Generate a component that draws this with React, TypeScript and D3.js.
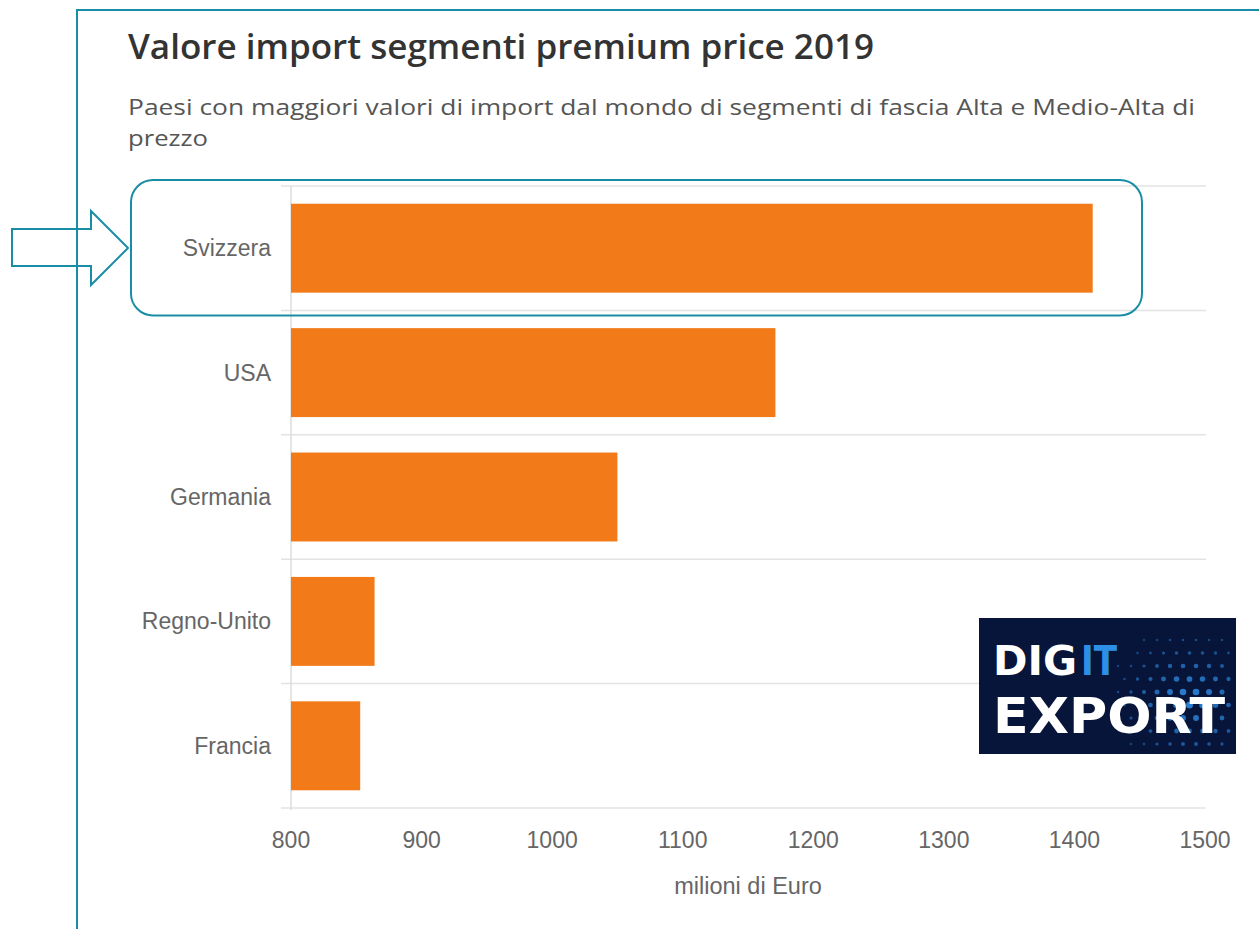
import React from "react";
import * as d3 from "d3";

const categories: string[] = ["Svizzera", "USA", "Germania", "Regno-Unito", "Francia"];
const values: number[] = [1414, 1171, 1050, 864, 853];
const xTicks: number[] = [800, 900, 1000, 1100, 1200, 1300, 1400, 1500];
const titleText = "Valore import segmenti premium price 2019";
const subtitleLines: string[] = [
  "Paesi con maggiori valori di import dal mondo di segmenti di fascia Alta e Medio-Alta di",
  "prezzo",
];
const axisTitle = "milioni di Euro";

const W = 1259;
const H = 929;
const TEAL = "#1a8da6";
const ORANGE = "#f27a19";
const LABEL = "#666666";

export default function App() {
  const x = d3.scaleLinear().domain([800, 1500]).range([291, 1205]);
  const y = d3
    .scaleBand<string>()
    .domain(categories)
    .range([186, 808])
    .paddingInner(0.285)
    .paddingOuter(0.1425);
  const step = y.step();
  const bw = y.bandwidth();
  const bandStart = (c: string) => (y(c) as number) - y.paddingOuter() * step;
  const boundaries = categories.map(bandStart).concat([808]);

  // decorative dot field for logo
  const dots: { cx: number; cy: number; r: number; o: number }[] = [];
  for (let i = 0; i < 10; i++) {
    for (let j = 0; j < 9; j++) {
      const cx = 1118 + i * 13 + (j % 2) * 6.5;
      const cy = 640 + j * 13;
      const dx = (cx - 1190) / 70;
      const dy = (cy - 700) / 60;
      const d = Math.sqrt(dx * dx + dy * dy);
      if (d > 1.2 || cx > 1234) continue;
      dots.push({ cx, cy, r: 1.3 + 2.4 * Math.max(0, 1 - d), o: 0.35 + 0.55 * Math.max(0, 1 - d / 1.2) });
    }
  }

  const first = categories[0];
  const hlTop = bandStart(first) - 6;
  const hlBottom = bandStart(first) + step + 5;

  return (
    <div style={{ position: "absolute", left: 0, top: 0, width: W, height: H, background: "#fff" }}>
      <svg width={W} height={H} style={{ display: "block" }}>
        <rect x={0} y={0} width={W} height={H} fill="#ffffff" />

        {/* frame */}
        <line x1={77} y1={10} x2={77} y2={H} stroke={TEAL} strokeWidth={2} />
        <line x1={76} y1={10} x2={W} y2={10} stroke={TEAL} strokeWidth={2} />

        {/* title */}
        <text
          x={128}
          y={59}
          fontFamily="'Open Sans', sans-serif"
          fontWeight={600}
          fontSize={35}
          fill="#333333"
          textLength={746}
          lengthAdjust="spacingAndGlyphs"
        >
          {titleText}
        </text>
        <text
          x={128}
          y={115}
          fontFamily="'Open Sans', sans-serif"
          fontSize={22}
          fill="#555555"
          textLength={1067}
          lengthAdjust="spacingAndGlyphs"
        >
          {subtitleLines[0]}
        </text>
        <text
          x={128}
          y={146}
          fontFamily="'Open Sans', sans-serif"
          fontSize={22}
          fill="#555555"
          textLength={80}
          lengthAdjust="spacingAndGlyphs"
        >
          {subtitleLines[1]}
        </text>

        {/* gridlines at category boundaries */}
        {boundaries.map((b, i) => (
          <line key={i} x1={281} x2={1206} y1={b} y2={b} stroke="#e3e3e3" strokeWidth={1.5} />
        ))}
        <line x1={291} x2={291} y1={186} y2={810} stroke="#dcdcdc" strokeWidth={1.5} />

        {/* bars */}
        {categories.map((c, i) => (
          <rect
            key={c}
            x={x(800)}
            y={y(c) as number}
            width={x(values[i]) - x(800)}
            height={bw}
            fill={ORANGE}
          />
        ))}

        {/* category labels */}
        {categories.map((c) => (
          <text
            key={c}
            x={271}
            y={(y(c) as number) + bw / 2}
            dy="0.35em"
            textAnchor="end"
            fontFamily="'Liberation Sans', Arial, sans-serif"
            fontSize={23}
            fill={LABEL}
          >
            {c}
          </text>
        ))}

        {/* x tick labels */}
        {xTicks.map((t) => (
          <text
            key={t}
            x={x(t)}
            y={848}
            textAnchor="middle"
            fontFamily="'Liberation Sans', Arial, sans-serif"
            fontSize={23}
            fill={LABEL}
          >
            {d3.format("d")(t)}
          </text>
        ))}
        <text
          x={(x(800) + x(1500)) / 2}
          y={894}
          textAnchor="middle"
          fontFamily="'Liberation Sans', Arial, sans-serif"
          fontSize={23.5}
          fill={LABEL}
        >
          {axisTitle}
        </text>

        {/* highlight rectangle */}
        <rect
          x={131}
          y={hlTop}
          width={1142 - 131}
          height={hlBottom - hlTop}
          rx={22}
          ry={22}
          fill="none"
          stroke={TEAL}
          strokeWidth={2}
        />

        {/* arrow */}
        <polygon
          points="12,229 91,229 91,211 128,248 91,285 91,266 12,266"
          fill="none"
          stroke={TEAL}
          strokeWidth={2}
          strokeLinejoin="miter"
        />

        {/* logo */}
        <rect x={979} y={618} width={257} height={136} fill="#07153a" />
        {dots.map((d, i) => (
          <circle key={i} cx={d.cx} cy={d.cy} r={d.r} fill="#2f8fe8" opacity={d.o} />
        ))}
        <text
          x={993}
          y={675}
          fill="#ffffff"
          fontFamily="'DejaVu Sans', sans-serif"
          fontWeight={700}
          fontSize={40}
          textLength={84}
          lengthAdjust="spacingAndGlyphs"
        >
          DIG
        </text>
        <text
          x={1081}
          y={675}
          fill="#2e8fe6"
          fontFamily="'DejaVu Sans', sans-serif"
          fontWeight={700}
          fontSize={40}
          textLength={36}
          lengthAdjust="spacingAndGlyphs"
        >
          IT
        </text>
        <text
          x={993}
          y={733}
          fill="#ffffff"
          fontFamily="'DejaVu Sans', sans-serif"
          fontWeight={700}
          fontSize={50}
          textLength={232}
          lengthAdjust="spacingAndGlyphs"
        >
          EXPORT
        </text>
      </svg>
    </div>
  );
}
